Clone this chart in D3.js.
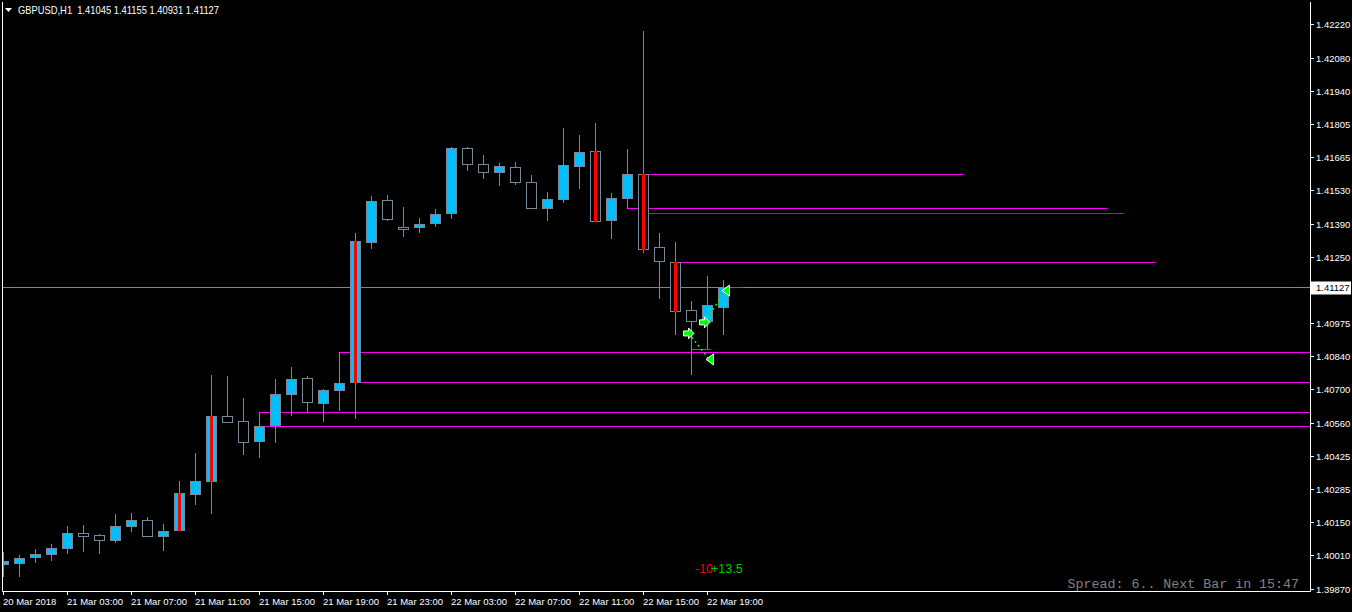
<!DOCTYPE html>
<html><head><meta charset="utf-8">
<script src="https://cdn.jsdelivr.net/npm/d3@7"></script>
<style>html,body{margin:0;padding:0;background:#000;overflow:hidden}text{white-space:pre}</style>
</head><body><svg id="c" width="1352" height="612"></svg>
<script>
// ---- data (GBPUSD H1, bars from 20 Mar 23:00 to 22 Mar 20:00) ----
const opens  = [1.39975,1.39975,1.40000,1.40014,1.40041,1.40103,1.40093,1.40072,1.40130,1.40155,1.40089,1.40114,1.40266,1.40319,1.40588,1.40567,1.40484,1.40549,1.40680,1.40746,1.40642,1.40696,1.40730,1.41314,1.41487,1.41374,1.41374,1.41391,1.41433,1.41703,1.41636,1.41603,1.41624,1.41562,1.41453,1.41491,1.41628,1.41690,1.41403,1.41495,1.41595,1.41291,1.41229,1.41029,1.40982,1.41045];
const highs  = [1.40024,1.40011,1.40036,1.40057,1.40132,1.40136,1.40098,1.40180,1.40186,1.40169,1.40140,1.40319,1.40435,1.40760,1.40756,1.40664,1.40605,1.40743,1.40793,1.40756,1.40702,1.40854,1.41351,1.41506,1.41509,1.41459,1.41413,1.41450,1.41707,1.41707,1.41675,1.41642,1.41646,1.41591,1.41521,1.41787,1.41758,1.41807,1.41517,1.41700,1.42191,1.41349,1.41312,1.41068,1.41170,1.41155];
const lows   = [1.39924,1.39925,1.39983,1.39992,1.40019,1.40028,1.40019,1.40066,1.40112,1.40089,1.40033,1.40114,1.40224,1.40186,1.40563,1.40432,1.40420,1.40482,1.40595,1.40607,1.40570,1.40616,1.40582,1.41289,1.41403,1.41339,1.41356,1.41381,1.41414,1.41614,1.41581,1.41552,1.41553,1.41453,1.41406,1.41481,1.41539,1.41399,1.41331,1.41453,1.41273,1.41079,1.40932,1.40763,1.40868,1.40931];
const closes = [1.39986,1.39997,1.40014,1.40039,1.40103,1.40091,1.40072,1.40130,1.40155,1.40089,1.40111,1.40269,1.40319,1.40589,1.40563,1.40480,1.40546,1.40680,1.40742,1.40646,1.40696,1.40727,1.41317,1.41484,1.41410,1.41366,1.41387,1.41428,1.41703,1.41636,1.41603,1.41628,1.41562,1.41453,1.41491,1.41632,1.41686,1.41399,1.41495,1.41595,1.41285,1.41231,1.41027,1.40982,1.41050,1.41127];
const redBars = [11,13,22,37,40,42];
const xTickBars = [0,4,8,12,16,20,24,28,32,36,40,44];
const xTickLabels = ["20 Mar 2018","21 Mar 03:00","21 Mar 07:00","21 Mar 11:00","21 Mar 15:00","21 Mar 19:00","21 Mar 23:00","22 Mar 03:00","22 Mar 07:00","22 Mar 11:00","22 Mar 15:00","22 Mar 19:00"];
const yTicks = [1.42220,1.42080,1.41940,1.41805,1.41665,1.41530,1.41390,1.41250,1.40975,1.40840,1.40700,1.40560,1.40425,1.40285,1.40150,1.40010,1.39870];
const levelPrices = [1.41595,1.41453,1.41433,1.41229,1.40854,1.40730,1.40605,1.40546];
const levelFrom   = [40,39,40,42,21,22,16,16];
const levelTo     = [60,69,70,72,null,null,null,null];
const tradeOpenBar = [43,44], tradeOpenPrice = [1.40933,1.40979];
const tradeCloseBar = [44,45], tradeClosePrice = [1.40825,1.41111];
const stubPrices = [1.40868,1.41127], stubFrom=[43,45], stubTo=[44.2,46.2];
const profitTexts = ["-10","+13.5"];
const symbolHeader = "GBPUSD,H1  1.41045 1.41155 1.40931 1.41127";
const lastPrice = 1.41127;
const infoText = "Spread: 6.. Next Bar in 15:47";

// ---- drawing ----
const svg = d3.select("#c");
svg.append("rect").attr("width",1352).attr("height",612).attr("fill","#000");
const L=2, R=1310, T=2, B=591;
const x = d3.scaleLinear().domain([0,45]).range([3.5,723.5]);
const y = d3.scaleLinear().domain([1.39870,1.42220]).range([589,24]);
const cr = v => Math.round(v)+0.5;

svg.append("defs").append("clipPath").attr("id","clip").append("rect")
  .attr("x",L+1).attr("y",T+1).attr("width",R-L-1).attr("height",B-T-1);
const g = svg.append("g").attr("clip-path","url(#clip)");

// current price line
g.append("line").attr("x1",L).attr("x2",R).attr("y1",cr(y(lastPrice))).attr("y2",cr(y(lastPrice)))
  .attr("stroke","#778899").attr("stroke-width",1);

// levels
levelPrices.forEach((p,i)=>{
  const yy = cr(y(p));
  g.append("line").attr("x1",x(levelFrom[i])).attr("x2",levelTo[i]==null?R:x(levelTo[i]))
   .attr("y1",yy).attr("y2",yy).attr("stroke","#FF00FF").attr("stroke-width",1)
   .attr("opacity", i===2?0.75:1);
});

// candles
const idx = d3.range(opens.length);
g.selectAll("line.wick").data(idx).join("line").attr("class","wick")
  .attr("x1",i=>x(i)).attr("x2",i=>x(i))
  .attr("y1",i=>Math.round(y(highs[i]))).attr("y2",i=>Math.round(y(lows[i]))+1)
  .attr("stroke","#778899").attr("stroke-width",1);
g.selectAll("rect.body").data(idx).join("rect").attr("class","body")
  .attr("x",i=>x(i)-5).attr("width",10)
  .attr("y",i=>cr(y(Math.max(opens[i],closes[i]))))
  .attr("height",i=>Math.max(1,Math.round(Math.abs(y(opens[i])-y(closes[i])))))
  .attr("fill",i=>closes[i]>=opens[i]?"#00BFFF":"#000")
  .attr("stroke","#778899").attr("stroke-width",1);
g.selectAll("line.red").data(redBars).join("line").attr("class","red")
  .attr("x1",i=>x(i)).attr("x2",i=>x(i))
  .attr("y1",i=>Math.round(y(Math.max(opens[i],closes[i]))))
  .attr("y2",i=>Math.round(y(Math.min(opens[i],closes[i])))+1)
  .attr("stroke","#FF0000").attr("stroke-width",3);

// stubs
stubPrices.forEach((p,i)=>{
  g.append("line").attr("x1",x(stubFrom[i])).attr("x2",x(stubTo[i]))
   .attr("y1",cr(y(p))).attr("y2",cr(y(p))).attr("stroke","#FF00FF").attr("stroke-width",1);
});

// trades
tradeOpenBar.forEach((b,i)=>{
  const ox = x(b)-3, oy = y(tradeOpenPrice[i]);
  const cx = x(tradeCloseBar[i])+2, cy = y(tradeClosePrice[i]);
  g.append("line").attr("x1",ox).attr("y1",oy).attr("x2",cx).attr("y2",cy)
   .attr("stroke","#00FF00").attr("stroke-width",1.5).attr("stroke-dasharray","2,3");
  g.append("path").attr("d","M-5,-2.5L0,-2.5L0,-5.5L5.5,0L0,5.5L0,2.5L-5,2.5Z").attr("transform",`translate(${ox},${oy})`)
   .attr("fill","#00FF00").attr("stroke","#fff").attr("stroke-width",1);
  g.append("path").attr("d","M4,-5.5L4,5.5L-3.5,0Z").attr("transform",`translate(${cx},${cy})`)
   .attr("fill","#00FF00").attr("stroke","#fff").attr("stroke-width",1);
});

// profit texts
svg.append("text").attr("x",695).attr("y",573).attr("fill","#FF0000")
  .attr("font-family","Liberation Sans, Arial").attr("font-size",12.5).text(profitTexts[0]);
svg.append("text").attr("x",711).attr("y",573).attr("fill","#00C800")
  .attr("font-family","Liberation Sans, Arial").attr("font-size",12.5).text(profitTexts[1]);

// info text
svg.append("text").attr("x",1299).attr("y",588).attr("text-anchor","end").attr("fill","#808080")
  .attr("font-family","Liberation Mono, Courier New, monospace").attr("font-size",13.3).text(infoText);

// frame
svg.append("path").attr("d",`M${L+0.5},${T}V${B+0.5}H${R+0.5}V${T}`).attr("fill","none").attr("stroke","#fff").attr("stroke-width",1);

// y axis
yTicks.forEach(t=>{
  const yy = cr(y(t));
  svg.append("line").attr("x1",R).attr("x2",R+4).attr("y1",yy).attr("y2",yy).attr("stroke","#fff");
  svg.append("text").attr("x",1316).attr("y",yy).attr("dy","0.35em").attr("fill","#fff")
    .attr("font-family","Liberation Sans, Arial").attr("font-size",9.5).text(t.toFixed(5));
});
// last price label
const ly = cr(y(lastPrice));
svg.append("rect").attr("x",R+1).attr("y",ly-6).attr("width",40).attr("height",13).attr("fill","#fff");
svg.append("text").attr("x",1316).attr("y",ly).attr("dy","0.35em").attr("fill","#000")
  .attr("font-family","Liberation Sans, Arial").attr("font-size",9.5).text(lastPrice.toFixed(5));

// x axis
xTickBars.forEach((b,i)=>{
  const xx = x(b);
  svg.append("line").attr("x1",xx).attr("x2",xx).attr("y1",B).attr("y2",B+4).attr("stroke","#fff");
  svg.append("text").attr("x",Math.round(xx)-1).attr("y",605).attr("fill","#fff")
    .attr("font-family","Liberation Sans, Arial").attr("font-size",9.5).text(xTickLabels[i]);
});

// header
svg.append("path").attr("d","M5,8H12L8.5,12Z").attr("fill","#fff");
svg.append("text").attr("x",18).attr("y",14).attr("fill","#fff")
  .attr("font-family","Liberation Sans, Arial").attr("font-size",10.5)
  .attr("textLength",201).attr("lengthAdjust","spacingAndGlyphs").text(symbolHeader);
</script></body></html>
